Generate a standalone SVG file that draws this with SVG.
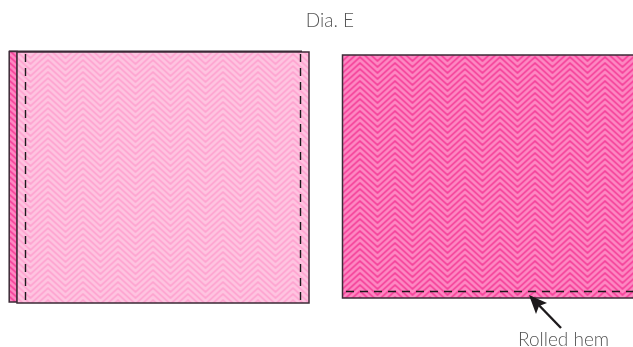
<svg xmlns="http://www.w3.org/2000/svg" width="633" height="347" viewBox="0 0 633 347">
<style>
text{font-family:Lato,"Open Sans","Liberation Sans",sans-serif;font-weight:300;font-size:19px;fill:#555}
.edge{stroke:#3b2a36;stroke-width:1.5}
.dash{fill:none;stroke:#1d1a1c;stroke-width:1.4;stroke-dasharray:8 6}
.chev{fill:none;stroke-width:2.7}
</style>
<defs>
<filter id="gray" x="-5%" y="-20%" width="110%" height="140%"><feOffset dx="0" dy="0"/></filter>
<path id="z" class="chev" d="M-2 -1.200L0 -3L17.500 -19L35 -3L37 -1.200M-2 4.800L0 3L17.500 -13L35 3L37 4.800M-2 10.800L0 9L17.500 -7L35 9L37 10.800M-2 16.800L0 15L17.500 -1L35 15L37 16.800M-2 22.800L0 21L17.500 5L35 21L37 22.800M-2 28.800L0 27L17.500 11L35 27L37 28.800M-2 34.800L0 33L17.500 17L35 33L37 34.800"/>
<pattern id="pd" width="35" height="6" patternUnits="userSpaceOnUse" x="342.500" y="1">
<rect width="35" height="6" fill="#f5429a"/><use href="#z" stroke="#fd88c2"/>
</pattern>
<pattern id="pl" width="35" height="6" patternUnits="userSpaceOnUse" x="30.500" y="4">
<rect width="35" height="6" fill="#fea3d0"/><use href="#z" stroke="#fec4e0"/>
</pattern>
</defs>
<g id="title" filter="url(#gray)"><text x="330" y="27" text-anchor="middle">Dia. E</text></g>
<g id="left-fabric">
<rect x="9.200" y="51.500" width="8" height="250.500" fill="url(#pd)" class="edge"/>
<rect x="17" y="52" width="292" height="251" fill="url(#pl)" class="edge"/>
<path d="M9 51.200H302" class="edge" fill="none"/>
<path d="M25.500 54V301" class="dash"/>
<path d="M300.500 54V301" class="dash"/>
</g>
<g id="right-fabric">
<rect x="342.500" y="55" width="295" height="243" fill="url(#pd)" class="edge"/>
<path d="M346 291.500H633" class="dash"/>
</g>
<g id="connectors">
<path d="M561 328L531 297" fill="none" stroke="#1d1a1c" stroke-width="2.400"/>
<path d="M529 295L547 303L539 306L536 314Z" fill="#1d1a1c"/>
</g>
<g id="label" filter="url(#gray)"><text x="518" y="346">Rolled hem</text></g>
</svg>
